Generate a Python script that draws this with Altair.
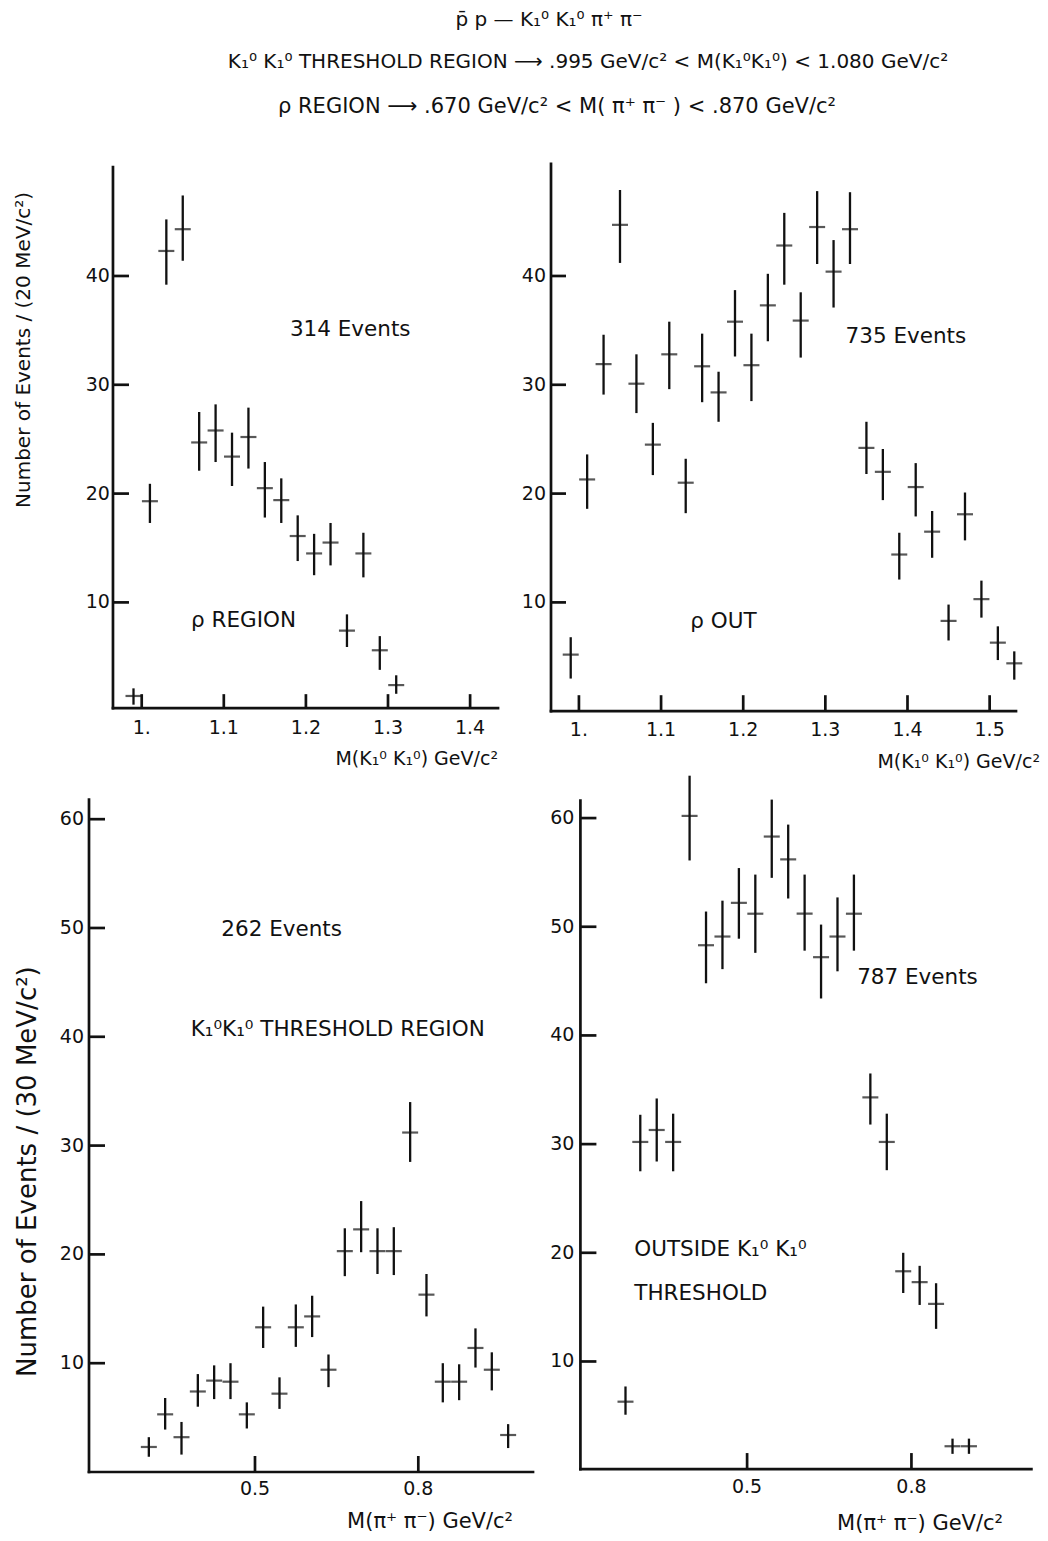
import altair as alt
import pandas as pd

FONT = "DejaVu Sans"
INK = "#111111"

# ---------------- data ----------------
# Panel A : rho region, M(K1K1) spectrum, 20 MeV bins
a_mass = [0.99, 1.01, 1.03, 1.05, 1.07, 1.09, 1.11, 1.13, 1.15, 1.17, 1.19, 1.21, 1.23, 1.25, 1.27, 1.29, 1.31]
a_n = [1.4, 19.3, 42.3, 44.3, 24.7, 25.8, 23.4, 25.2, 20.5, 19.4, 16.1, 14.5, 15.5, 7.4, 14.5, 5.6, 2.4]
a_lo = [0.6, 17.3, 39.2, 41.4, 22.1, 22.9, 20.7, 22.3, 17.8, 17.3, 13.8, 12.5, 13.4, 5.9, 12.3, 3.8, 1.6]
a_hi = [2.1, 20.9, 45.2, 47.4, 27.5, 28.2, 25.6, 27.9, 22.9, 21.4, 18.0, 16.3, 17.3, 8.9, 16.4, 6.9, 3.3]

# Panel B : rho out, M(K1K1) spectrum, 20 MeV bins
b_mass = [0.99, 1.01, 1.03, 1.05, 1.07, 1.09, 1.11, 1.13, 1.15, 1.17, 1.19, 1.21, 1.23, 1.25,
          1.27, 1.29, 1.31, 1.33, 1.35, 1.37, 1.39, 1.41, 1.43, 1.45, 1.47, 1.49, 1.51, 1.53]
b_n = [5.2, 21.3, 31.9, 44.7, 30.1, 24.5, 32.8, 21.0, 31.7, 29.3, 35.8, 31.8, 37.3, 42.8,
       35.9, 44.5, 40.4, 44.3, 24.2, 22.0, 14.4, 20.6, 16.5, 8.3, 18.1, 10.3, 6.3, 4.4]
b_lo = [3.0, 18.6, 29.1, 41.2, 27.4, 21.7, 29.6, 18.2, 28.4, 26.6, 32.6, 28.5, 34.0, 39.2,
        32.5, 41.1, 37.1, 41.1, 21.8, 19.4, 12.1, 17.9, 14.1, 6.5, 15.7, 8.6, 4.7, 2.9]
b_hi = [6.8, 23.6, 34.6, 47.9, 32.8, 26.5, 35.8, 23.2, 34.7, 31.2, 38.7, 34.7, 40.2, 45.8,
        38.5, 47.8, 43.3, 47.7, 26.6, 24.1, 16.4, 22.8, 18.4, 9.8, 20.1, 12.0, 7.8, 5.5]

# Panel C : K1K1 threshold region, M(pi+pi-) spectrum, 30 MeV bins
c_mass = [0.305, 0.335, 0.365, 0.395, 0.425, 0.455, 0.485, 0.515, 0.545, 0.575, 0.605, 0.635,
          0.665, 0.695, 0.725, 0.755, 0.785, 0.815, 0.845, 0.875, 0.905, 0.935, 0.965]
c_n = [2.3, 5.3, 3.2, 7.4, 8.4, 8.3, 5.3, 13.3, 7.2, 13.3, 14.3, 9.4,
       20.3, 22.3, 20.3, 20.3, 31.2, 16.3, 8.3, 8.3, 11.4, 9.4, 3.4]
c_lo = [1.4, 3.9, 1.6, 6.0, 6.7, 6.7, 4.0, 11.4, 5.8, 11.5, 12.4, 7.8,
        18.0, 20.2, 18.2, 18.1, 28.5, 14.3, 6.4, 6.6, 9.6, 7.5, 2.2]
c_hi = [3.2, 6.8, 4.6, 9.0, 9.8, 10.0, 6.4, 15.2, 8.7, 15.4, 16.2, 10.8,
        22.4, 24.9, 22.4, 22.5, 34.0, 18.2, 10.0, 9.9, 13.2, 11.0, 4.4]

# Panel D : outside K1K1 threshold, M(pi+pi-) spectrum, 30 MeV bins
d_mass = [0.278, 0.305, 0.335, 0.365, 0.395, 0.425, 0.455, 0.485, 0.515, 0.545, 0.575,
          0.605, 0.635, 0.665, 0.695, 0.725, 0.755, 0.785, 0.815, 0.845, 0.875, 0.905]
d_n = [6.3, 30.2, 31.3, 30.2, 60.2, 48.3, 49.1, 52.2, 51.2, 58.3, 56.2,
       51.2, 47.2, 49.1, 51.2, 34.3, 30.2, 18.3, 17.3, 15.3, 2.2, 2.2]
d_lo = [5.1, 27.5, 28.4, 27.5, 56.1, 44.8, 46.1, 48.9, 47.6, 54.5, 52.6,
        47.8, 43.4, 45.9, 47.8, 31.8, 27.6, 16.3, 15.2, 13.0, 1.5, 1.5]
d_hi = [7.7, 32.7, 34.2, 32.8, 63.9, 51.4, 52.4, 55.4, 54.8, 61.7, 59.4,
        54.8, 50.2, 52.7, 54.8, 36.5, 32.8, 20.0, 18.8, 17.2, 2.9, 2.9]

# tick values / labels
kk_xticks = [1.0, 1.1, 1.2, 1.3, 1.4]
kk_xlabels = ["1.", "1.1", "1.2", "1.3", "1.4"]
kk2_xticks = [1.0, 1.1, 1.2, 1.3, 1.4, 1.5]
kk2_xlabels = ["1.", "1.1", "1.2", "1.3", "1.4", "1.5"]
top_yticks = [10, 20, 30, 40]
pp_xticks = [0.5, 0.8]
pp_xlabels = ["0.5", "0.8"]
bot_yticks = [10, 20, 30, 40, 50, 60]

titles = [
    "p\u0304 p \u2014 K\u2081\u2070 K\u2081\u2070 \u03c0\u207a \u03c0\u207b",
    "K\u2081\u2070 K\u2081\u2070 THRESHOLD REGION \u27f6 .995 GeV/c\u00b2 < M(K\u2081\u2070K\u2081\u2070) < 1.080 GeV/c\u00b2",
    "\u03c1  REGION \u27f6 .670  GeV/c\u00b2 < M( \u03c0\u207a \u03c0\u207b ) <  .870  GeV/c\u00b2",
]
xtitle_kk = "M(K\u2081\u2070 K\u2081\u2070) GeV/c\u00b2"
xtitle_pp = "M(\u03c0\u207a \u03c0\u207b) GeV/c\u00b2"
ytitle_top = "Number of Events / (20 MeV/c\u00b2)"
ytitle_bot = "Number of Events / (30 MeV/c\u00b2)"


def txt(s, **kw):
    return alt.Chart(pd.DataFrame({"t": [s]})).mark_text(font=FONT, color=INK, **kw)


def panel(x, y, lo, hi, *, width, height, xdom, ydom, xaxis, xline, ytop,
          xticks, xlabels, yticks, xlab_off, ylab_gap, xtick_len, ytick_len,
          notes, xtitle, xtitle_pos, xtitle_size, extra=None):
    xs = alt.Scale(domain=xdom, nice=False, zero=False)
    ys = alt.Scale(domain=ydom, nice=False, zero=False)

    def X(f):
        return alt.X(f, type="quantitative", scale=xs, axis=None)

    def Y(f):
        return alt.Y(f, type="quantitative", scale=ys, axis=None)

    ax_px = width * (xaxis[0] - xdom[0]) / (xdom[1] - xdom[0])
    line_py = height * (ydom[1] - xline) / (ydom[1] - ydom[0])

    df = pd.DataFrame({"x": x, "y": y, "lo": lo, "hi": hi})
    bars = alt.Chart(df).mark_rule(color=INK, strokeWidth=2.3).encode(x=X("x"), y=Y("lo"), y2="hi")
    cross = alt.Chart(df).mark_tick(color=INK, orient="horizontal", size=16, thickness=2.2).encode(
        x=X("x"), y=Y("y"))

    axdf = pd.DataFrame({"x": [xaxis[0], xaxis[0]], "x2": [xaxis[1], xaxis[0]],
                         "y": [xline, xline], "y2": [xline, ytop]})
    axes = alt.Chart(axdf).mark_rule(color=INK, strokeWidth=2.7, strokeCap="square").encode(
        x=X("x"), x2="x2", y=Y("y"), y2="y2")

    xt = pd.DataFrame({"v": xticks, "lab": xlabels})
    xtick = alt.Chart(xt).mark_rule(color=INK, strokeWidth=2.7).encode(
        x=X("v"), y=alt.value(line_py), y2=alt.value(line_py - xtick_len))
    xlab = alt.Chart(xt).mark_text(font=FONT, fontSize=19, color=INK, baseline="middle").encode(
        x=X("v"), y=alt.value(line_py + xlab_off), text="lab:N")

    yt = pd.DataFrame({"v": yticks, "lab": [str(v) for v in yticks]})
    ytick = alt.Chart(yt).mark_rule(color=INK, strokeWidth=2.7).encode(
        y=Y("v"), x=alt.value(ax_px), x2=alt.value(ax_px + ytick_len))
    ylab = alt.Chart(yt).mark_text(font=FONT, fontSize=19, color=INK, align="right",
                                   baseline="middle").encode(
        y=Y("v"), x=alt.value(ax_px - ylab_gap), text="lab:N")

    layers = [axes, xtick, ytick, xlab, ylab, bars, cross]
    for (s, nx, ny, al) in notes:
        layers.append(
            alt.Chart(pd.DataFrame({"t": [s], "x": [nx], "y": [ny]})).mark_text(
                font=FONT, fontSize=21.5, color=INK, align=al, baseline="middle").encode(
                x=X("x"), y=Y("y"), text="t:N"))
    layers.append(txt(xtitle, fontSize=xtitle_size, align="right", baseline="middle").encode(
        text="t:N", x=alt.value(xtitle_pos[0]), y=alt.value(xtitle_pos[1])))
    if extra:
        layers.extend(extra)
    return alt.layer(*layers).properties(width=width, height=height)


# title lines and y titles (placed relative to top-left panel / bottom-left panel)
anchor = alt.Chart(pd.DataFrame({"a": [0]})).mark_rule(opacity=0, strokeWidth=0.01).encode(
    x=alt.value(-89), x2=alt.value(-89), y=alt.value(-164.5), y2=alt.value(-164.5))
title_pos = [(460, -145), (499, -103), (468, -58)]
title_sizes = [20, 20, 21]
title_layers = [anchor]
for s, (tx, ty), fs in zip(titles, title_pos, title_sizes):
    title_layers.append(txt(s, fontSize=fs, align="center", baseline="middle").encode(
        text="t:N", x=alt.value(tx), y=alt.value(ty)))
title_layers.append(txt(ytitle_top, fontSize=20, align="center", baseline="middle", angle=270).encode(
    text="t:N", x=alt.value(-65), y=alt.value(185)))

LEFT_W = 414.6   # width of the left column's plot groups
COL_GAP = 47

p1 = panel(a_mass, a_n, a_lo, a_hi, width=LEFT_W, height=546.2,
           xdom=[0.9358, 1.4408], ydom=[0, 50.2], xaxis=[0.965, 1.434], xline=0.28, ytop=50.0,
           xticks=kk_xticks, xlabels=kk_xlabels, yticks=top_yticks,
           xlab_off=19.5, ylab_gap=3, xtick_len=14, ytick_len=16,
           notes=[("314 Events", 1.254, 35.0, "center"), ("\u03c1 REGION", 1.124, 8.3, "center")],
           xtitle=xtitle_kk, xtitle_pos=(409, 594), xtitle_size=19, extra=title_layers)

p2 = panel(b_mass, b_n, b_lo, b_hi, width=465, height=546.2,
           xdom=[0.966, 1.5321], ydom=[0, 50.2], xaxis=[0.966, 1.5321], xline=0.0, ytop=50.3,
           xticks=kk2_xticks, xlabels=kk2_xlabels, yticks=top_yticks,
           xlab_off=18.5, ylab_gap=5, xtick_len=16, ytick_len=15,
           notes=[("735 Events", 1.398, 34.4, "center"), ("\u03c1 OUT", 1.176, 8.2, "center")],
           xtitle=xtitle_kk, xtitle_pos=(489, 597), xtitle_size=19)

ytitle_bot_layer = [txt(ytitle_bot, fontSize=26, align="center", baseline="middle", angle=270).encode(
    text="t:N", x=alt.value(-61), y=alt.value(372))]

p3 = panel(c_mass, c_n, c_lo, c_hi, width=LEFT_W, height=672.4,
           xdom=[0.1951, 0.1951 + LEFT_W / 544.4], ydom=[0, 61.8], xaxis=[0.1951, 1.0107],
           xline=0.0, ytop=61.8,
           xticks=pp_xticks, xlabels=pp_xlabels, yticks=bot_yticks,
           xlab_off=17, ylab_gap=5, xtick_len=16, ytick_len=16,
           notes=[("262 Events", 0.549, 49.8, "center"),
                  ("K\u2081\u2070K\u2081\u2070 THRESHOLD REGION", 0.652, 40.6, "center")],
           xtitle=xtitle_pp, xtitle_pos=(424, 722), xtitle_size=21, extra=ytitle_bot_layer)

p4 = panel(d_mass, d_n, d_lo, d_hi, width=480.4, height=672.4,
           xdom=[0.1420, 1.019], ydom=[-0.17, 61.7], xaxis=[0.1957, 1.019], xline=0.1, ytop=61.6,
           xticks=pp_xticks, xlabels=pp_xlabels, yticks=bot_yticks,
           xlab_off=17.5, ylab_gap=6, xtick_len=16, ytick_len=16,
           notes=[("787 Events", 0.811, 45.3, "center"),
                  ("OUTSIDE K\u2081\u2070 K\u2081\u2070", 0.294, 20.3, "left"),
                  ("THRESHOLD", 0.294, 16.2, "left")],
           xtitle=xtitle_pp, xtitle_pos=(452, 724), xtitle_size=21)

chart = alt.concat(p1, p2, p3, p4, columns=2, spacing={"row": 87.6, "column": COL_GAP},
                   bounds="flush").properties(
    padding=0, background="white"
).configure_view(stroke=None)

chart.save("out.html", embed_options={"renderer": "svg", "actions": False})
